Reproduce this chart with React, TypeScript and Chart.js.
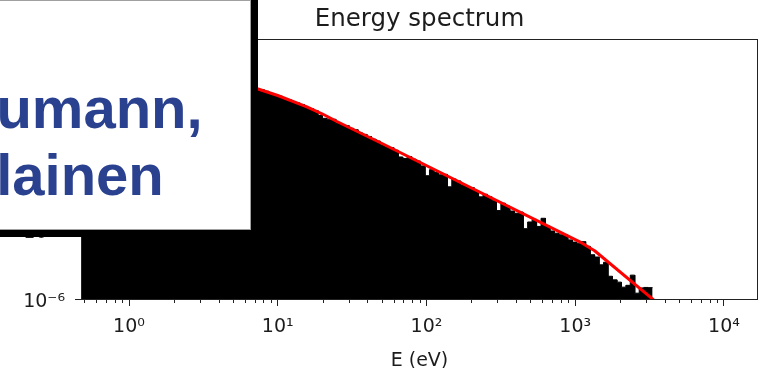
import React, { useEffect, useRef } from "react";
import { Chart, registerables } from "chart.js";

Chart.register(...registerables);

// ---------- data ----------
const TITLE = "Energy spectrum";
const X_LABEL = "E (eV)";
const OVERLAY_LINES = ["umann,", "lainen"];

// log-spaced histogram bins (bin geometry: log10 of first edge and log10 step)
const BIN_FIRST_LOG10 = -0.35;
const BIN_STEP_LOG10 = 0.03;

// histogram heights, one per bin (129 bins)
const histValues = [
  46800, 42700, 38900, 36300, 33100, 30200, 27500, 25100, 23400, 21400,
  19500, 17800, 16200, 14800, 13500, 12600, 11500, 10500, 9550, 8710,
  7940, 7240, 6610, 6170, 5620, 5130, 4680, 4270, 3890, 3550,
  3240, 2950, 2690, 2450, 2240, 2040, 1860, 1700, 1550, 1410, 1350,
  1240, 1082, 855, 756, 663, 506, 460, 379, 333, 282,
  215, 186, 156, 95.1, 71.7, 66.0, 65.5, 43.0, 36.9, 34.3,
  26.5, 22.8, 16.6, 14.3, 11.5, 8.9, 7.38, 5.02, 4.02, 3.8,
  2.95, 1.5, 1.29, 1.57, 1.2, 1.0, 0.61, 0.229, 0.42, 0.314,
  0.25, 0.264, 0.0753, 0.165, 0.136, 0.0913, 0.0732, 0.0697, 0.0522, 0.0276,
  0.0359, 0.0276, 0.0187, 0.00698, 0.0147, 0.011, 0.00666, 0.00534, 0.00604, 0.00114,
  0.00223, 0.00291, 0.00143, 0.00323, 0.00149, 9.04e-4, 7.25e-4, 6.19e-4, 6.1e-4, 3.71e-4,
  2.97e-4, 2.55e-4, 3.11e-4, 1.96e-4, 8.4e-5, 6.69e-5, 3.06e-5, 3.96e-5, 9.74e-6, 6.8e-6,
  5.41e-6, 3.27e-6, 3.93e-6, 1.09e-5, 1.79e-6, 3.03e-6, 3.18e-6, 3.12e-6,
];

// red fitted curve
const fitEnergy = [0.45, 1, 2, 4, 7.37, 10, 15.7, 20, 25.0, 51.0, 1000, 1100, 1350, 3436, 4200];
const fitValues = [5.0e4, 2.1e4, 8.0e3, 3.0e3, 1350, 704, 223, 110, 52.2, 5.49, 3.8e-4, 2.81e-4, 1.25e-4, 8.18e-7, 2.86e-7];

// axes
const X_MIN = 0.483;
const X_MAX = 16670;
const Y_MIN = 1e-6;
const Y_MAX = 1.82e5;
const xMajorTicks = [1, 10, 100, 1000, 10000];
const xTickLabels = ["10⁰", "10¹", "10²", "10³", "10⁴"];
const xMinorDecades = [0.1, 1, 10, 100, 1000, 10000];
const xMinorMultipliers = [2, 3, 4, 5, 6, 7, 8, 9];
const yMajorTicks = [1e-6, 1e-3, 1, 1e3];
const yTickLabels = ["10⁻⁶", "10⁻³", "10⁰", "10³"];

// ---------- styles ----------
const TEXT_COLOR = "#1c1c1c";
const AXIS_COLOR = "#222222";
const FONT = '"DejaVu Sans", sans-serif';

function buildHistPoints() {
  const pts: { x: number; y: number }[] = [];
  histValues.forEach((v, i) => {
    const left = Math.pow(10, BIN_FIRST_LOG10 + BIN_STEP_LOG10 * i);
    const right = Math.pow(10, BIN_FIRST_LOG10 + BIN_STEP_LOG10 * (i + 1));
    pts.push({ x: left, y: v });
    pts.push({ x: right, y: v });
  });
  return pts;
}

const decorPlugin = {
  id: "decor",
  afterDraw(chart: any) {
    const { ctx, chartArea: a, scales } = chart;
    const xs = scales.x;
    ctx.save();
    ctx.strokeStyle = AXIS_COLOR;
    ctx.lineWidth = 1;
    // minor x ticks
    ctx.beginPath();
    for (const d of xMinorDecades) {
      for (const m of xMinorMultipliers) {
        const v = m * d;
        if (v < X_MIN || v > X_MAX) continue;
        const px = Math.round(xs.getPixelForValue(v)) + 0.5;
        ctx.moveTo(px, a.bottom);
        ctx.lineTo(px, a.bottom + 4);
      }
    }
    ctx.stroke();
    // frame (all four spines)
    ctx.strokeRect(
      Math.round(a.left) - 0.5,
      Math.round(a.top) - 0.5,
      Math.round(a.right - a.left) + 1,
      Math.round(a.bottom - a.top) + 1
    );
    // title and x label
    ctx.fillStyle = TEXT_COLOR;
    ctx.textAlign = "center";
    ctx.textBaseline = "alphabetic";
    ctx.font = `24.5px ${FONT}`;
    ctx.fillText(TITLE, (a.left + a.right) / 2, 26);
    ctx.font = `19px ${FONT}`;
    ctx.fillText(X_LABEL, (a.left + a.right) / 2, 365.5);
    ctx.restore();
  },
};

export default function App() {
  const ref = useRef<HTMLCanvasElement | null>(null);

  useEffect(() => {
    if (!ref.current) return;
    const chart = new Chart(ref.current, {
      type: "line",
      data: {
        datasets: [
          {
            label: "fit",
            data: fitEnergy.map((e, i) => ({ x: e, y: fitValues[i] })),
            borderColor: "#ff0000",
            borderWidth: 3,
            borderJoinStyle: "round",
            pointRadius: 0,
            fill: false,
            tension: 0,
            order: 0,
          },
          {
            label: "histogram",
            data: buildHistPoints(),
            borderColor: "#000000",
            borderWidth: 1,
            backgroundColor: "#000000",
            pointRadius: 0,
            fill: "start",
            tension: 0,
            order: 1,
          },
        ],
      },
      options: {
        animation: false,
        responsive: false,
        maintainAspectRatio: false,
        devicePixelRatio: 1,
        events: [],
        layout: { padding: { top: 40, right: 2, left: 0, bottom: 0 } },
        plugins: {
          legend: { display: false },
          tooltip: { enabled: false },
          title: { display: false },
        },
        scales: {
          x: {
            type: "logarithmic",
            position: "bottom",
            min: X_MIN,
            max: X_MAX,
            afterBuildTicks: (scale: any) => {
              scale.ticks = xMajorTicks.map((v) => ({ value: v, major: true }));
            },
            afterFit: (scale: any) => {
              scale.height = 69;
            },
            ticks: {
              autoSkip: false,
              maxRotation: 0,
              minRotation: 0,
              padding: 10,
              color: TEXT_COLOR,
              font: { family: FONT, size: 19 },
              callback: (_v: any, i: number) => xTickLabels[i],
            },
            grid: {
              display: true,
              drawOnChartArea: false,
              drawTicks: true,
              tickLength: 7,
              tickColor: AXIS_COLOR,
              tickWidth: 1,
            },
            border: { display: false },
          },
          y: {
            type: "logarithmic",
            position: "left",
            min: Y_MIN,
            max: Y_MAX,
            afterBuildTicks: (scale: any) => {
              scale.ticks = yMajorTicks.map((v) => ({ value: v, major: true }));
            },
            afterFit: (scale: any) => {
              scale.width = 82;
            },
            ticks: {
              autoSkip: false,
              padding: 10,
              labelOffset: 3,
              color: TEXT_COLOR,
              font: { family: FONT, size: 19 },
              callback: (_v: any, i: number) => yTickLabels[i],
            },
            grid: {
              display: true,
              drawOnChartArea: false,
              drawTicks: true,
              tickLength: 7,
              tickColor: AXIS_COLOR,
              tickWidth: 1,
            },
            border: { display: false },
          },
        },
      },
      plugins: [decorPlugin],
    } as any);
    return () => chart.destroy();
  }, []);

  const lineStyle: React.CSSProperties = {
    position: "absolute",
    whiteSpace: "nowrap",
    fontFamily: '"Liberation Sans", Arial, sans-serif',
    fontWeight: 700,
    fontSize: 58,
    lineHeight: "58px",
    color: "rgb(41, 65, 143)",
  };

  return (
    <div
      style={{
        position: "fixed",
        left: 0,
        top: 0,
        width: 759,
        height: 368,
        overflow: "hidden",
        background: "#ffffff",
      }}
    >
      <canvas
        ref={ref}
        width={759}
        height={368}
        style={{ position: "absolute", left: 0, top: 0, width: 759, height: 368 }}
      />
      <div style={{ position: "absolute", left: 0, top: 0, width: 258, height: 237, background: "#000" }} />
      <div
        style={{
          position: "absolute",
          left: -1,
          top: 0,
          width: 252,
          height: 230,
          boxSizing: "border-box",
          background: "#fff",
          border: "1px solid #a0a0a0",
          overflow: "hidden",
        }}
      >
        <div style={{ ...lineStyle, left: -3.6, top: 77.9 }}>{OVERLAY_LINES[0]}</div>
        <div style={{ ...lineStyle, left: -3.8, top: 144.9 }}>{OVERLAY_LINES[1]}</div>
      </div>
    </div>
  );
}
